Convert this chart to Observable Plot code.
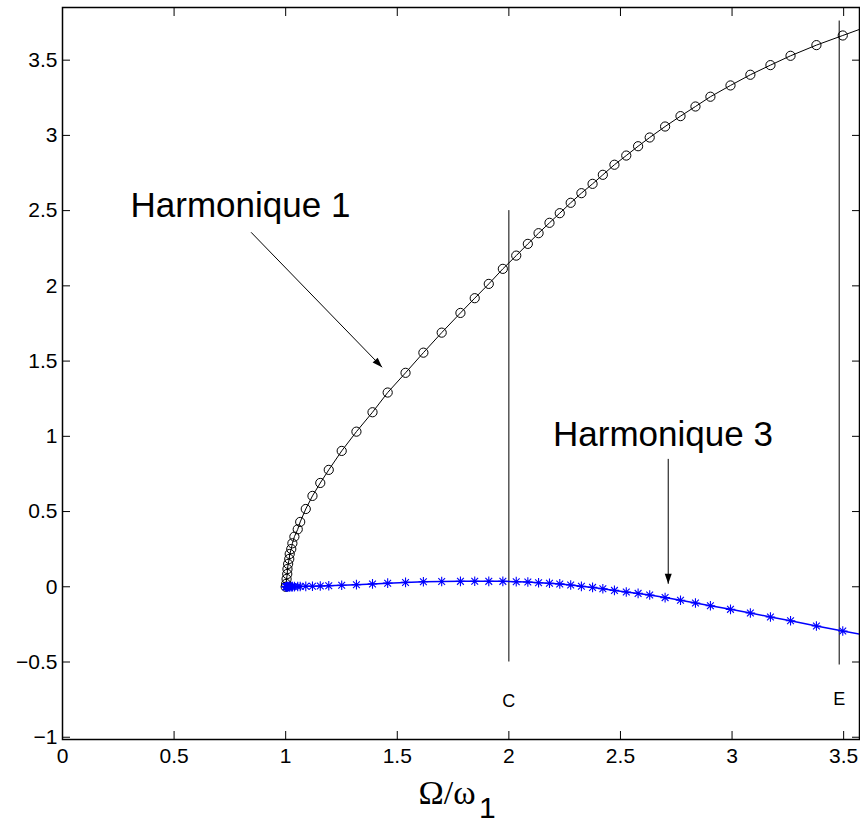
<!DOCTYPE html>
<html>
<head>
<meta charset="utf-8">
<script src="https://cdn.jsdelivr.net/npm/d3@7"></script>
<script src="https://cdn.jsdelivr.net/npm/@observablehq/plot@0.6"></script>
<style>
  body { margin: 0; background: #fff; }
  #chart svg { display: block; }
</style>
</head>
<body>
<div id="chart"></div>
<script>
// Shared abscissa Ω/ω1 (last value lies just beyond the right edge, clipped)
const omega = [1.000, 1.002, 1.004, 1.007, 1.008, 1.011, 1.016, 1.018, 1.025, 1.030, 1.039, 1.054, 1.065, 1.090, 1.120, 1.155, 1.193, 1.251, 1.317, 1.389, 1.457, 1.537, 1.617, 1.699, 1.783, 1.847, 1.910, 1.973, 2.033, 2.085, 2.133, 2.182, 2.228, 2.277, 2.325, 2.375, 2.421, 2.473, 2.526, 2.579, 2.631, 2.700, 2.769, 2.836, 2.903, 2.993, 3.082, 3.172, 3.262, 3.378, 3.496, 3.62];
// Harmonique 1 amplitude (black circles)
const harmonique1 = [0.000, 0.019, 0.052, 0.085, 0.118, 0.152, 0.185, 0.218, 0.251, 0.289, 0.333, 0.382, 0.431, 0.517, 0.604, 0.690, 0.777, 0.903, 1.031, 1.160, 1.291, 1.422, 1.556, 1.689, 1.820, 1.918, 2.013, 2.113, 2.201, 2.279, 2.350, 2.419, 2.483, 2.552, 2.616, 2.678, 2.738, 2.805, 2.866, 2.928, 2.986, 3.059, 3.128, 3.192, 3.257, 3.332, 3.403, 3.467, 3.529, 3.600, 3.664, 3.731];
// Harmonique 3 amplitude (blue stars)
const harmonique3 = [0.000, 0.000, 0.000, 0.000, 0.001, 0.001, 0.001, 0.001, 0.001, 0.001, 0.001, 0.002, 0.002, 0.003, 0.004, 0.005, 0.007, 0.010, 0.014, 0.019, 0.024, 0.029, 0.033, 0.035, 0.036, 0.037, 0.036, 0.036, 0.034, 0.032, 0.027, 0.023, 0.019, 0.012, 0.003, -0.004, -0.013, -0.024, -0.035, -0.044, -0.055, -0.072, -0.090, -0.108, -0.126, -0.150, -0.174, -0.201, -0.226, -0.261, -0.294, -0.329];

const xTicks = [0, 0.5, 1, 1.5, 2, 2.5, 3, 3.5];
const yTicks = [-1, -0.5, 0, 0.5, 1, 1.5, 2, 2.5, 3, 3.5];
const xDomain = [0, 3.571];
const yDomain = [-1.015, 3.85];

// Vertical reference lines C and E
const refLabels = ["C", "E"];
const refX = [2.0, 3.48];
const refY1 = [-0.5, -0.52];
const refY2 = [2.5, 3.76];
const refLabelY = [-0.797, -0.787];

// Annotations
const annotTexts = ["Harmonique 1", "Harmonique 3"];
const annotX = [0.305, 2.198];
const annotY = [2.456, 0.938];
const arrowX1 = [0.845, 2.714];
const arrowY1 = [2.356, 0.85];
const arrowX2 = [1.432, 2.714];
const arrowY2 = [1.459, 0.02];
const arrowAngle = [136, 180];

const xLabelMain = "Ω/ω";
const xLabelSub = "1";

// Build tables
const h1 = omega.map((x, i) => ({x, y: harmonique1[i]}));
const h3 = omega.map((x, i) => ({x, y: harmonique3[i]}));
const refs = refLabels.map((label, i) => ({label, x: refX[i], y1: refY1[i], y2: refY2[i], ly: refLabelY[i]}));
const annots = annotTexts.map((text, i) => ({text, x: annotX[i], y: annotY[i]}));
const arrows = arrowX1.map((x1, i) => ({x1, y1: arrowY1[i], x2: arrowX2[i], y2: arrowY2[i], angle: arrowAngle[i]}));

const tickFmt = d => (d < 0 ? "\u2212" : "") + String(Math.abs(d));

// MATLAB-like '*' marker (8 arms)
const asterisk = {
  draw(ctx, size) {
    const r = Math.sqrt(size / Math.PI);
    const d = r * Math.SQRT1_2;
    ctx.moveTo(-r, 0); ctx.lineTo(r, 0);
    ctx.moveTo(0, -r); ctx.lineTo(0, r);
    ctx.moveTo(-d, -d); ctx.lineTo(d, d);
    ctx.moveTo(-d, d); ctx.lineTo(d, -d);
  }
};
// Filled arrow head with tip at origin, pointing up
const arrowHead = {
  draw(ctx) {
    ctx.moveTo(0, 0); ctx.lineTo(3.5, 10); ctx.lineTo(-3.5, 10); ctx.closePath();
  }
};

const font = "'Liberation Sans', Arial, Helvetica, sans-serif";

const chart = Plot.plot({
  width: 860,
  height: 825,
  marginLeft: 62,
  marginRight: 1,
  marginTop: 7,
  marginBottom: 86,
  style: {fontFamily: font, fontSize: "21px", color: "black", background: "white"},
  x: {domain: xDomain},
  y: {domain: yDomain},
  marks: [
    // axes: labels
    Plot.axisX(xTicks, {anchor: "bottom", tickSize: 0, tickPadding: 9, label: null, fontSize: 21, tickFormat: tickFmt}),
    Plot.axisY(yTicks, {anchor: "left", tickSize: 0, tickPadding: 5, label: null, fontSize: 21, tickFormat: tickFmt}),
    // inward ticks on all four sides
    Plot.axisX(xTicks, {anchor: "bottom", tickSize: -8, fill: "none", label: null}),
    Plot.axisX(xTicks, {anchor: "top", tickSize: -8, fill: "none", label: null}),
    Plot.axisY(yTicks, {anchor: "left", tickSize: -8, fill: "none", label: null}),
    Plot.axisY(yTicks, {anchor: "right", tickSize: -8, fill: "none", label: null}),
    // reference lines
    Plot.ruleX(refs, {x: "x", y1: "y1", y2: "y2", stroke: "black", strokeWidth: 1}),
    Plot.text(refs, {x: "x", y: "ly", text: "label", lineAnchor: "bottom", fontSize: 18, fill: "black"}),
    // Harmonique 1
    Plot.line(h1, {x: "x", y: "y", stroke: "black", strokeWidth: 1, clip: true}),
    Plot.dot(h1, {x: "x", y: "y", r: 4.6, stroke: "black", strokeWidth: 1, fill: "none", clip: true}),
    // Harmonique 3
    Plot.line(h3, {x: "x", y: "y", stroke: "#0000ff", strokeWidth: 1.5, clip: true}),
    Plot.dot(h3, {x: "x", y: "y", r: 4.8, symbol: asterisk, stroke: "#0000ff", strokeWidth: 1.1, fill: "none", clip: true}),
    // annotations
    Plot.text(annots, {x: "x", y: "y", text: "text", textAnchor: "start", lineAnchor: "bottom", fontSize: 35, fill: "black"}),
    Plot.link(arrows, {x1: "x1", y1: "y1", x2: "x2", y2: "y2", stroke: "black", strokeWidth: 1}),
    Plot.dot(arrows, {x: "x2", y: "y2", r: 5, symbol: arrowHead, rotate: "angle", fill: "black", stroke: "none"}),
    // x-axis title Ω/ω1
    Plot.text([xLabelMain], {text: d => d, frameAnchor: "bottom", dx: -14, dy: 64, lineAnchor: "bottom", fontFamily: "'Liberation Serif', 'Times New Roman', serif", fontSize: 34, fill: "black"}),
    Plot.text([xLabelSub], {text: d => d, frameAnchor: "bottom", textAnchor: "start", dx: 18, dy: 78, lineAnchor: "bottom", fontSize: 30, fill: "black"}),
    Plot.frame({stroke: "black", strokeWidth: 1.5})
  ]
});

document.getElementById("chart").appendChild(chart);
</script>
</body>
</html>
